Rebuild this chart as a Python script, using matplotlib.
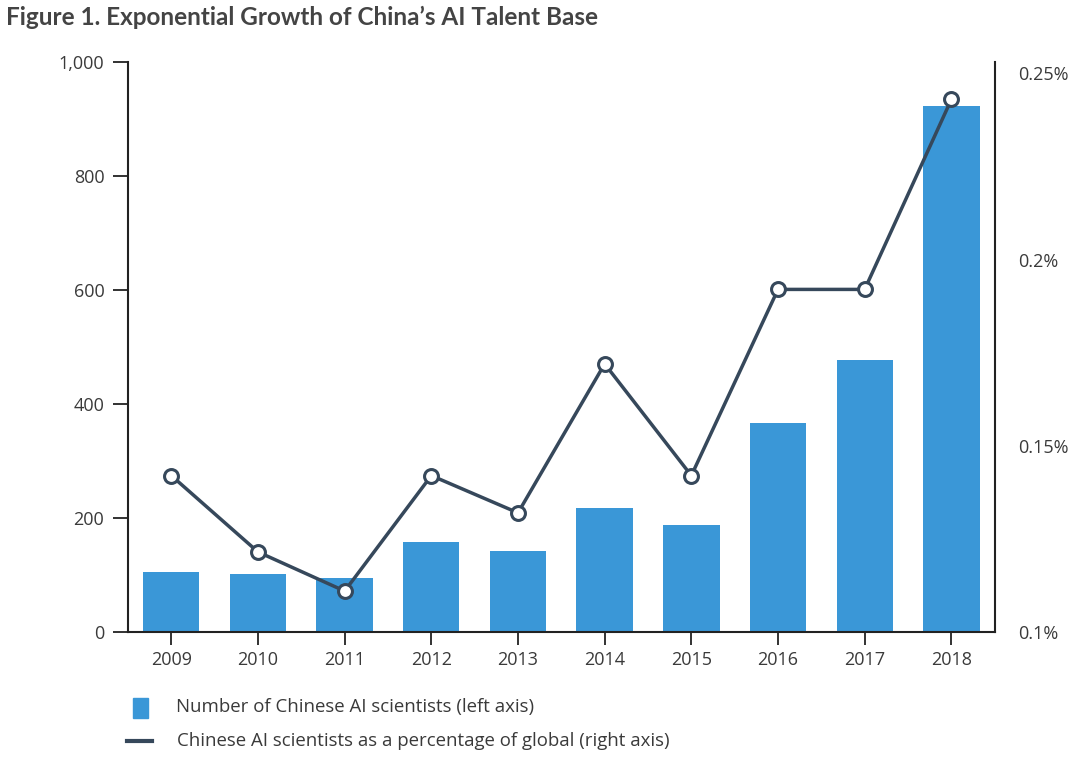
import matplotlib.pyplot as plt
from matplotlib.patches import Rectangle
from matplotlib.lines import Line2D

# values
years = ["2009", "2010", "2011", "2012", "2013", "2014", "2015", "2016", "2017", "2018"]
scientists = [105, 102, 95, 158, 142, 218, 188, 366, 478, 924]
share_pct = [0.142, 0.1215, 0.111, 0.142, 0.132, 0.172, 0.142, 0.192, 0.192, 0.243]

left_ticks = [0, 200, 400, 600, 800, 1000]
right_ticks = [0.10, 0.15, 0.20, 0.25]
right_labels = ["0.1%", "0.15%", "0.2%", "0.25%"]

BAR = "#3a97d7"
LINE = "#36485b"
TXT = "#3a3a3a"

plt.rcParams["font.family"] = ["Open Sans", "DejaVu Sans"]

fig = plt.figure(figsize=(10.8, 7.59), dpi=100)
ax = fig.add_axes([0.1185, 0.1673, 0.8025, 0.7507])

x = list(range(len(years)))
ax.bar(x, scientists, width=0.65, color=BAR, zorder=2)
ax.set_xlim(-0.5, len(years) - 0.5)
ax.set_ylim(0, 1000)
ax.set_yticks(left_ticks)
ax.set_yticklabels([f"{v:,}" for v in left_ticks])
ax.set_xticks(x)
ax.set_xticklabels(years)
ax.tick_params(axis="both", colors="#222222", labelcolor=TXT, labelsize=13,
               width=1.3)
ax.tick_params(axis="y", length=11, pad=6)
ax.tick_params(axis="x", length=9, pad=5)
for s in ["top", "right"]:
    ax.spines[s].set_visible(False)
for s in ["left", "bottom"]:
    ax.spines[s].set_linewidth(1.5)
    ax.spines[s].set_color("#222222")

ax2 = ax.twinx()
ax2.plot(x, share_pct, color=LINE, lw=2.5, marker="o", ms=10,
         mfc="white", mec=LINE, mew=2.2, zorder=3)
ax2.set_ylim(0.1, 0.253)
ax2.set_yticks(right_ticks)
ax2.set_yticklabels(right_labels)
ax2.tick_params(axis="y", length=0, pad=17, labelsize=13, labelcolor=TXT)
for s in ["top", "left", "bottom"]:
    ax2.spines[s].set_visible(False)
ax2.spines["right"].set_linewidth(1.5)
ax2.spines["right"].set_color("#222222")

fig.text(0.006, 0.977, "Figure 1. Exponential Growth of China\u2019s AI Talent Base",
         fontsize=17.5, fontweight="bold", color="#444444",
         family=["Lato", "DejaVu Sans"], va="center", ha="left")

# legend drawn by hand under the chart
fig.patches.append(Rectangle((133 / 1080, 1 - 718 / 759), 15 / 1080, 20 / 759,
                             transform=fig.transFigure, color=BAR))
fig.text(176 / 1080, 1 - 707 / 759, "Number of Chinese AI scientists (left axis)",
         fontsize=13.4, color=TXT, va="center")
fig.lines.append(Line2D([127 / 1080, 152 / 1080], [1 - 741 / 759, 1 - 741 / 759],
                        transform=fig.transFigure, color=LINE, lw=3))
fig.text(177 / 1080, 1 - 741 / 759,
         "Chinese AI scientists as a percentage of global (right axis)",
         fontsize=13.4, color=TXT, va="center")

fig.savefig("out.png", dpi=100)
